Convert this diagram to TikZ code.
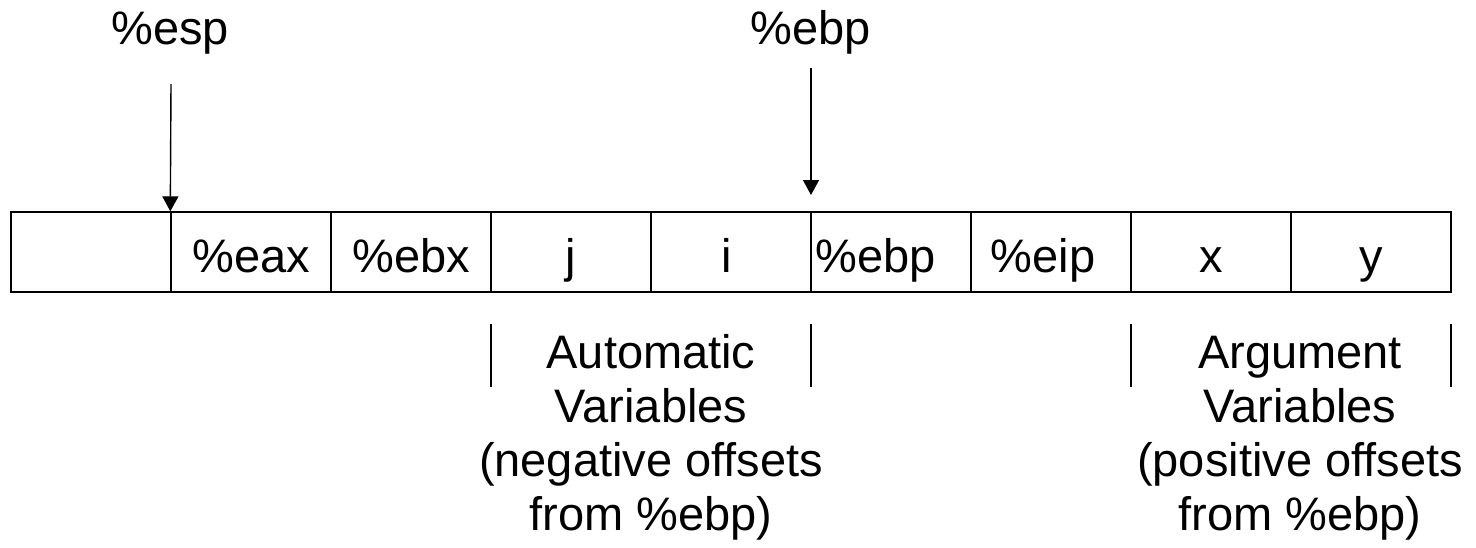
\documentclass[tikz,border=0pt]{standalone}
\usepackage{fontspec}
\setmainfont{Liberation Sans}
\usetikzlibrary{arrows.meta}
\begin{document}
\begin{tikzpicture}[x=0.5pt,y=-0.5pt,
  every node/.style={font=\fontsize{23.5pt}{27pt}\selectfont, inner sep=0pt},
  cell/.style={draw, line width=0.7pt, minimum width=80pt, minimum height=40pt},
  ptr/.style={line width=0.7pt, -{Triangle[length=7.5pt,width=8pt]}},
  brk/.style={line width=0.7pt},
  lbl/.style={anchor=base},
  note/.style={align=center, anchor=base}]
\useasboundingbox (0,0) rectangle (1476,547);
% cells
\foreach \i in {0,...,8} {
  \node[cell] (c\i) at ({91+160*\i},252) {};
}
% cell texts
\node[lbl] (t1) at (251,272) {\%eax};
\node[lbl] (t2) at (411,272) {\%ebx};
\node[lbl] (t3) at (571,272) {j};
\node[lbl] (t4) at (727,272) {i};
\node[lbl] (t5) at (876,272) {\%ebp};
\node[lbl] (t6) at (1043,272) {\%eip};
\node[lbl] (t7) at (1211,272) {x};
\node[lbl] (t8) at (1371,272) {y};
% pointers
\node[lbl] (esp) at (170,44) {\%esp};
\node[lbl] (ebp) at (811,44) {\%ebp};
\coordinate (espfrom) at (171,84);
\coordinate (ebpfrom) at (811,68);
\coordinate (ebpto) at (811,195);
\draw[ptr] (espfrom) -- (c1.north west);
\draw[ptr] (ebpfrom) -- (ebpto);
% brackets
\draw[brk] (491,324) -- (491,387);
\draw[brk] (811,324) -- (811,387);
\draw[brk] (1131,324) -- (1131,387);
\draw[brk] (1451,324) -- (1451,387);
% notes (base anchor = baseline of last line)
\node[note] (auto) at (651,530) {Automatic\\Variables\\(negative offsets\\from \%ebp)};
\node[note] (args) at (1300,530) {Argument\\Variables\\(positive offsets\\from \%ebp)};
\end{tikzpicture}
\end{document}
